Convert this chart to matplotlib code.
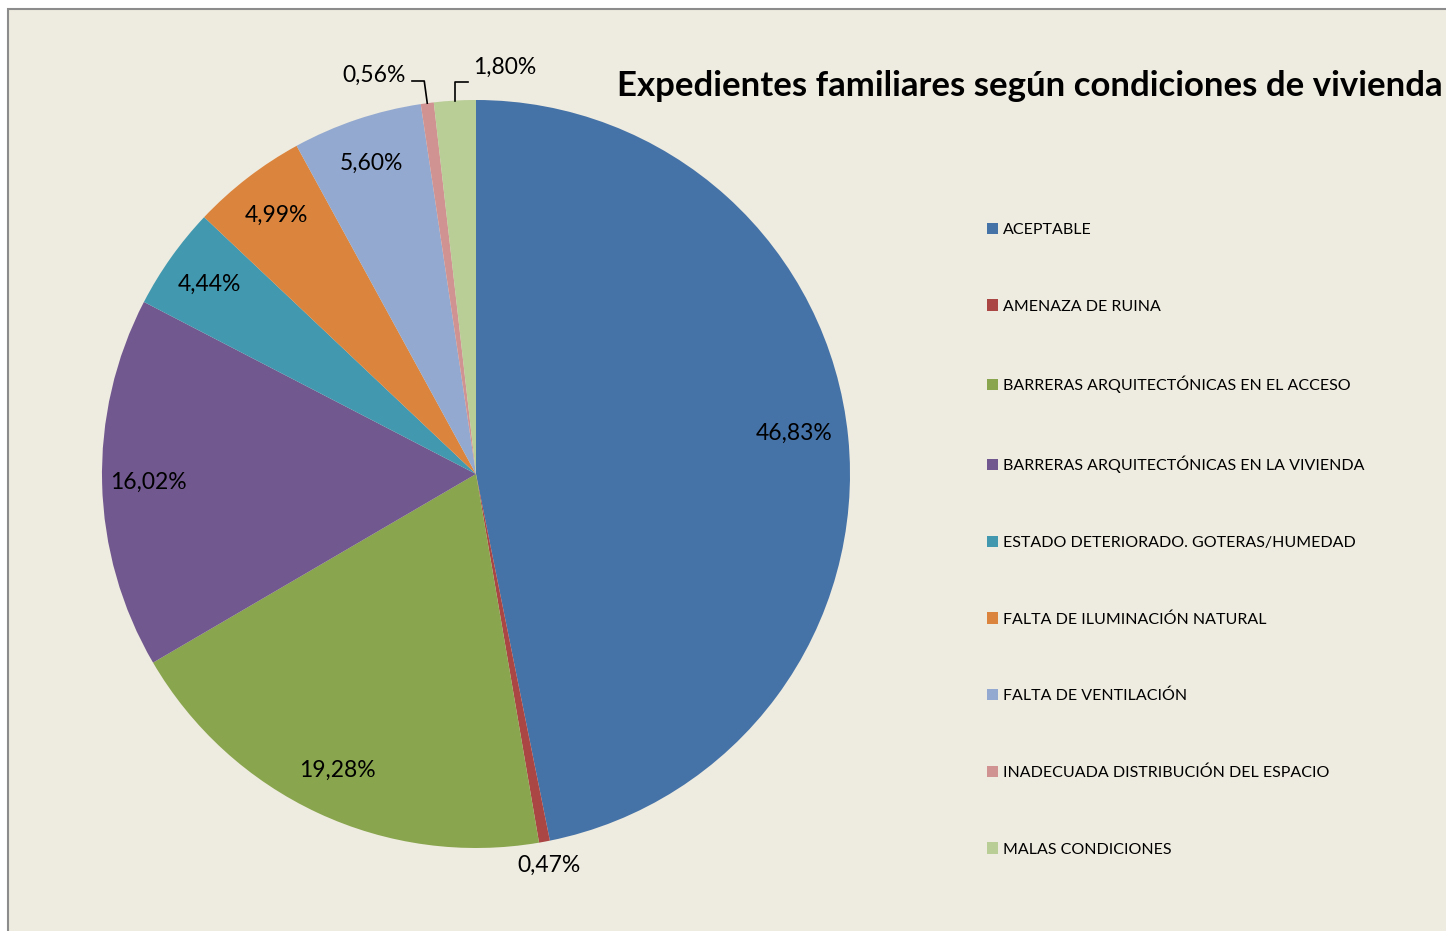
import matplotlib
matplotlib.use("Agg")
import matplotlib.pyplot as plt
from matplotlib.patches import Rectangle, Patch
import numpy as np

categories = [
    "ACEPTABLE",
    "AMENAZA DE RUINA",
    "BARRERAS ARQUITECTÓNICAS EN EL ACCESO",
    "BARRERAS ARQUITECTÓNICAS EN LA VIVIENDA",
    "ESTADO DETERIORADO. GOTERAS/HUMEDAD",
    "FALTA DE ILUMINACIÓN NATURAL",
    "FALTA DE VENTILACIÓN",
    "INADECUADA DISTRIBUCIÓN DEL ESPACIO",
    "MALAS CONDICIONES",
]
values = [46.83, 0.47, 19.28, 16.02, 4.44, 4.99, 5.60, 0.56, 1.80]
colors = ["#4572A7", "#AA4643", "#89A54E", "#71588F", "#4198AF",
          "#DB843D", "#93A9CF", "#D19392", "#B9CD96"]
title = "Expedientes familiares según condiciones de vivienda"

W, H = 1446, 931
plt.rcParams['font.family'] = ['Lato', 'DejaVu Sans']

fig = plt.figure(figsize=(W / 100, H / 100), dpi=100, facecolor="white")
ax = fig.add_axes([0, 0, 1, 1])

def Y(y):
    return H - y

cx, cy, R = 476, Y(474), 374
wedges, _ = ax.pie(values, colors=colors, startangle=90, counterclock=False,
                   center=(cx, cy), radius=R,
                   wedgeprops=dict(linewidth=0))
ax.set_xlim(0, W)
ax.set_ylim(0, H)
ax.set_aspect('equal')
ax.axis('off')

# chart area background
ax.add_patch(Rectangle((8, -10), W, H - 9 + 10, facecolor="#EEEBE0",
                       edgecolor="#8C8C8C", linewidth=1.5, zorder=0))

# labels
total = sum(values)
start = 90.0
mids = []
for v in values:
    span = v / total * 360
    mids.append(start - span / 2)
    start -= span

def fmt(v):
    return f"{v:.2f}%".replace(".", ",")

LBL = 16.5
for i, (v, m) in enumerate(zip(values, mids)):
    a = np.deg2rad(m)
    if i in (7, 8):
        continue
    d = 1.065 if v < 1 else 0.875
    tx, ty = cx + d * R * np.cos(a), cy + d * R * np.sin(a)
    if i == 0:
        tx -= 8
        ty += 8
    ax.text(tx, ty, fmt(v), ha="center", va="center", fontsize=LBL,
            color="black", zorder=5)

# leader-line labels for the small top slices
for i, (tx, ty, side) in zip((7, 8), ((374, Y(75), "left"), (505, Y(67), "right"))):
    a = np.deg2rad(mids[i])
    ex, ey = cx + R * np.cos(a), cy + R * np.sin(a)
    ax.text(tx, ty, fmt(values[i]), ha="center", va="center", fontsize=LBL,
            color="black", zorder=5)
    if side == "left":
        xs = [tx + 38, ex - 3, ex]
        ys = [ty - 6, ty - 6, ey]
    else:
        xs = [tx - 37, ex, ex]
        ys = [ty - 15, ty - 15, ey]
    ax.plot(xs, ys, color="black", lw=1.2, zorder=5)

# title
ax.text(1443, Y(86), title, ha="right", va="center", fontsize=25,
        fontweight="bold", color="black")

# legend
handles = [Patch(facecolor=c, edgecolor="none") for c in colors]
leg = ax.legend(handles, categories, loc="upper left",
                bbox_to_anchor=(987, Y(223)), bbox_transform=ax.transData,
                frameon=False, fontsize=11.5, handlelength=0.7,
                handleheight=0.7, handletextpad=0.3, labelspacing=3.9,
                borderaxespad=0, borderpad=0)

fig.savefig("out.png", dpi=100, facecolor="white")
